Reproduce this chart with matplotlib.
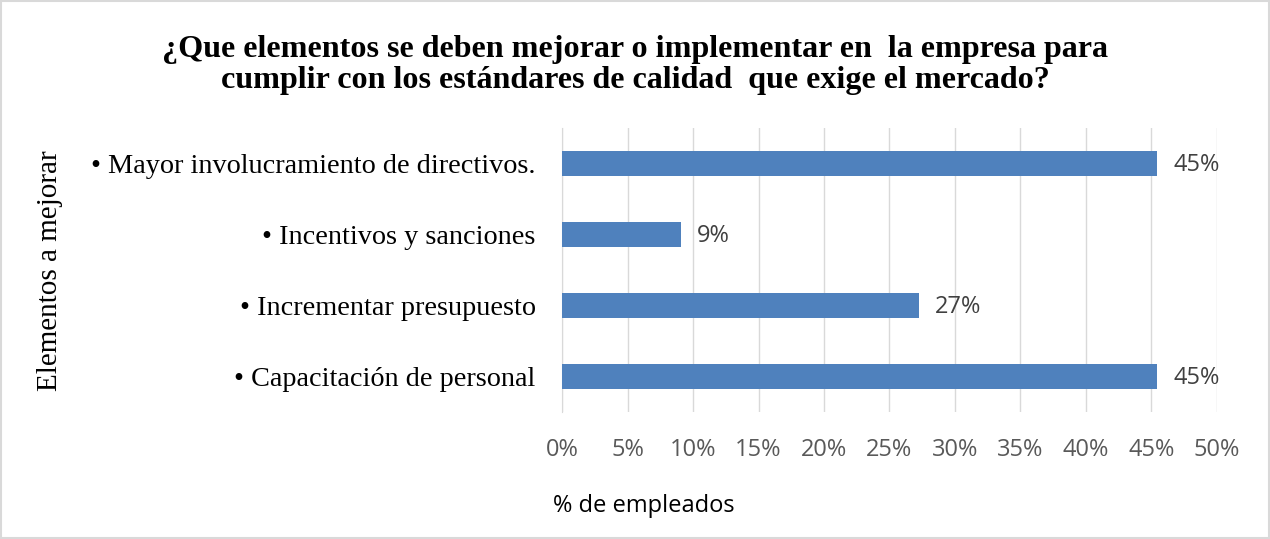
import matplotlib
matplotlib.use("Agg")
import matplotlib.pyplot as plt
from matplotlib.ticker import FuncFormatter, MultipleLocator
from matplotlib.patches import Rectangle

categories = ["• Capacitación de personal", "• Incrementar presupuesto",
              "• Incentivos y sanciones", "• Mayor involucramiento de directivos."]
values = [45.45, 27.27, 9.09, 45.45]
labels = ["45%", "27%", "9%", "45%"]
title = "¿Que elementos se deben mejorar o implementar en  la empresa para\ncumplir con los estándares de calidad  que exige el mercado?"
xlabel = "% de empleados"
ylabel = "Elementos a mejorar"

fig = plt.figure(figsize=(12.7, 5.39), dpi=100)
ax = fig.add_axes([562/1270, 1-412/539, (1217-562)/1270, (412-128)/539])

ax.barh(range(len(categories)), values, height=0.36, color="#4F81BD", zorder=3)
for i, (v, l) in enumerate(zip(values, labels)):
    ax.text(v + 1.2, i - 0.02, l, va="center", ha="left", fontsize=17,
            family="Open Sans", color="#404040")

ax.set_xlim(0, 50)
ax.set_ylim(-0.5, 3.5)
ax.xaxis.set_major_locator(MultipleLocator(5))
ax.xaxis.set_major_formatter(FuncFormatter(lambda x, p: f"{x:.0f}%"))
ax.grid(axis="x", color="#D9D9D9", linewidth=1, zorder=0)
ax.set_yticks(range(len(categories)))
ax.set_yticklabels(categories, family="Liberation Serif", fontsize=20.3, color="black")
for s in ["top", "right", "bottom"]:
    ax.spines[s].set_visible(False)
ax.spines["left"].set_color("#D9D9D9")
ax.tick_params(axis="both", length=0)
ax.tick_params(axis="y", pad=19)
ax.tick_params(axis="x", pad=19, labelsize=17, labelcolor="#595959")
for t in ax.get_xticklabels():
    t.set_family("Open Sans")

fig.text(553/1270, 1-506/539, xlabel, ha="left", va="center",
         fontsize=17, family="Open Sans", color="black")
fig.text(50/1270, 1-271/539, ylabel, rotation=90, ha="center", va="center",
         fontsize=21, family="Liberation Serif")
fig.text(0.5, 1-65/539, title, ha="center", va="center", fontsize=23.1,
         family="Liberation Serif", weight="bold", linespacing=1.12)

fig.patches.append(Rectangle((0.001, 0.001), 0.998, 0.998, transform=fig.transFigure,
                             fill=False, edgecolor="#D9D9D9", linewidth=1.5))
fig.savefig("out.png", dpi=100)
